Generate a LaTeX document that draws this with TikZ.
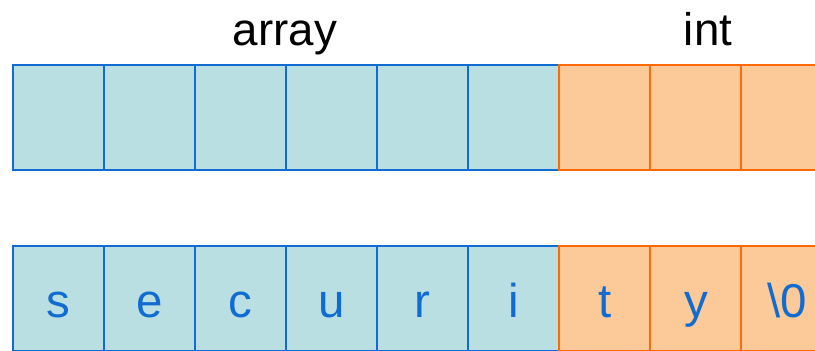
\documentclass[tikz,border=0pt]{standalone}
\usepackage{fontspec}
\setmainfont{Liberation Sans}
\usepackage{tikz}

\definecolor{cellteal}{RGB}{186,223,227}
\definecolor{edgeblue}{RGB}{16,108,208}
\definecolor{cellpeach}{RGB}{252,201,152}
\definecolor{edgeorange}{RGB}{255,106,8}

\begin{document}
\begin{tikzpicture}
 [x=0.01cm, y=-0.01cm,
  blue cell/.style={node distance=0.91cm, rectangle, minimum width=0.91cm, minimum height=1.05cm, inner sep=0pt, fill=cellteal, draw=edgeblue, line width=0.6pt, text=edgeblue, font=\fontsize{13.5}{13.5}\selectfont, text height=0.37cm, text depth=0pt},
  orange cell/.style={blue cell, fill=cellpeach, draw=edgeorange},
  type label/.style={anchor=base, font=\fontsize{13}{13}\selectfont}]

\useasboundingbox (0,0) rectangle (815,350);
\clip (0,0) rectangle (815,350);

% top row: the empty buffer and the int after it
\node[blue cell] (a1) at (58.5,117.5) {};
\node[blue cell] (a2) [right of=a1] {};
\node[blue cell] (a3) [right of=a2] {};
\node[blue cell] (a4) [right of=a3] {};
\node[blue cell] (a5) [right of=a4] {};
\node[blue cell] (a6) [right of=a5] {};
\node[orange cell] (i1) [right of=a6] {};
\node[orange cell] (i2) [right of=i1] {};
\node[orange cell] (i3) [right of=i2] {};

\node[type label] (arr) at (285,45) {array};
\node[type label] (int) at (708,45) {int};

% bottom row: the string written over both
\node[blue cell] (s1) at (58.5,298.5) {s};
\node[blue cell] (s2) [right of=s1] {e};
\node[blue cell] (s3) [right of=s2] {c};
\node[blue cell] (s4) [right of=s3] {u};
\node[blue cell] (s5) [right of=s4] {r};
\node[blue cell] (s6) [right of=s5] {i};
\node[orange cell] (s7) [right of=s6] {t};
\node[orange cell] (s8) [right of=s7] {y};
\node[orange cell] (s9) [right of=s8] {\textbackslash 0};

\end{tikzpicture}
\end{document}
